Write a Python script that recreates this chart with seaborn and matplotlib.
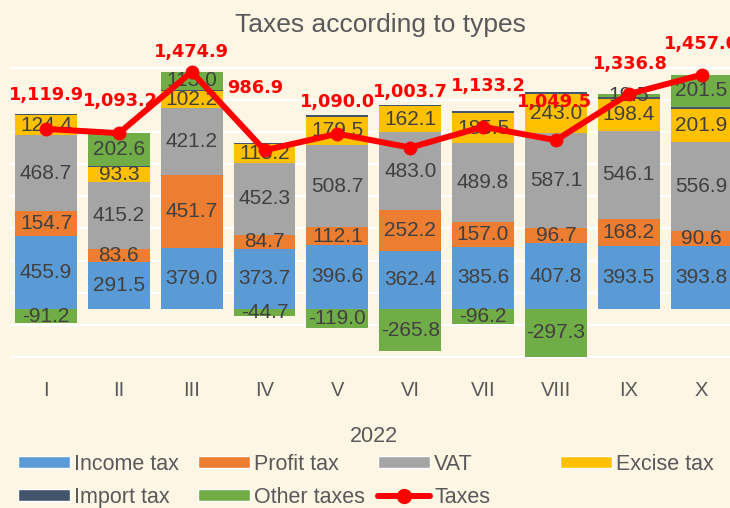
import numpy as np
import matplotlib
matplotlib.use("Agg")
import matplotlib.pyplot as plt
import seaborn as sns
from matplotlib.patches import Patch
from matplotlib.lines import Line2D

# values (2022, by month)
months = ["I", "II", "III", "IV", "V", "VI", "VII", "VIII", "IX", "X"]
income_tax = [455.9, 291.5, 379.0, 373.7, 396.6, 362.4, 385.6, 407.8, 393.5, 393.8]
profit_tax = [154.7, 83.6, 451.7, 84.7, 112.1, 252.2, 157.0, 96.7, 168.2, 90.6]
vat = [468.7, 415.2, 421.2, 452.3, 508.7, 483.0, 489.8, 587.1, 546.1, 556.9]
excise_tax = [124.4, 93.3, 102.2, 113.2, 179.5, 162.1, 185.5, 243.0, 198.4, 201.9]
import_tax = [7.4, 7.0, 7.8, 7.7, 12.1, 9.8, 11.5, 12.2, 11.1, 12.3]
other_taxes = [-91.2, 202.6, 113.0, -44.7, -119.0, -265.8, -96.2, -297.3, 19.5, 201.5]
taxes_total = [1119.9, 1093.2, 1474.9, 986.9, 1090.0, 1003.7, 1133.2, 1049.5, 1336.8, 1457.0]

# label placement for the totals (pixels, relative to the marker)
total_label_dx = [0, 2, 0, -9, 0, 0, 5, -1, 2, 0]
total_label_dy = [34, 32, 20, 62, 32, 56, 41, 38, 30, 31]

colors = {
    "Income tax": "#5B9BD5",
    "Profit tax": "#ED7D31",
    "VAT": "#A5A5A5",
    "Excise tax": "#FFC000",
    "Import tax": "#44546A",
    "Other taxes": "#70AD47",
}
bg = "#FEF6E5"
text_grey = "#595959"
label_grey = "#404040"

sns.set_theme(style="white")
plt.rcParams["font.family"] = ["Liberation Sans", "DejaVu Sans"]

W, H = 730, 508
fig = plt.figure(figsize=(W / 100, H / 100), dpi=100, facecolor=bg)
ax = fig.add_axes([9.6 / W, 1 - 373 / H, 728.4 / W, (373 - 51.8) / H])
ax.set_facecolor(bg)

series = [
    ("Income tax", income_tax),
    ("Profit tax", profit_tax),
    ("VAT", vat),
    ("Excise tax", excise_tax),
    ("Import tax", import_tax),
    ("Other taxes", other_taxes),
]

pos_base = np.zeros(len(months))
for name, vals in series:
    vals = np.asarray(vals, dtype=float)
    bottom = np.where(vals >= 0, pos_base, 0.0)
    sns.barplot(x=months, y=vals, bottom=bottom, order=months, color=colors[name],
                saturation=1, width=0.85, errorbar=None, linewidth=0, ax=ax, zorder=2)
    if name != "Import tax":
        ax.bar_label(ax.containers[-1], labels=[f"{v:.1f}" for v in vals],
                     label_type="center", fontsize=15, color=label_grey, zorder=4)
    pos_base = pos_base + np.where(vals >= 0, vals, 0.0)

x = np.arange(len(months))
sns.lineplot(x=x, y=taxes_total, color="#FF0000", linewidth=4.3, marker="o",
             markersize=10, markeredgewidth=0, ax=ax, zorder=5)
for i, v in enumerate(taxes_total):
    ax.annotate(f"{v:,.1f}", (i, v), xytext=(total_label_dx[i], total_label_dy[i]),
                textcoords="offset pixels", ha="center", va="center",
                fontsize=12.8, fontweight="bold", color="#FF0000",
                family="DejaVu Sans", zorder=6, annotation_clip=False)

ax.set_xlim(-0.5, len(months) - 0.5)
ax.set_ylim(-400, 1600)
ax.set_yticks(np.arange(-300, 1600, 200))
ax.yaxis.grid(True, color="white", linewidth=1.5)
ax.xaxis.grid(False)
ax.set_axisbelow(True)
ax.tick_params(axis="y", length=0, labelleft=False)
ax.tick_params(axis="x", length=0, pad=6, labelsize=14.5, labelcolor=text_grey)
for s in ax.spines.values():
    s.set_visible(False)
ax.set_ylabel("")
ax.set_xlabel("2022", fontsize=15.5, color=text_grey)
ax.xaxis.set_label_coords(0.5, (373 - 426) / (373 - 51.8))

fig.text(380 / W, 1 - 32 / H, "Taxes according to types", ha="center", va="baseline",
         fontsize=19, color=text_grey)

# legend: four columns on an even grid, like the original
taxes_handle = Line2D([0], [0], color="#FF0000", linewidth=4.3, marker="o", markersize=10)
columns = [
    (18, ["Income tax", "Import tax"]),
    (198, ["Profit tax", "Other taxes"]),
    (378, ["VAT", "Taxes"]),
    (560, ["Excise tax"]),
]
for x_px, names in columns:
    handles = [taxes_handle if n == "Taxes" else Patch(facecolor=colors[n], label=n) for n in names]
    fig.legend(handles, names, loc="upper left", bbox_to_anchor=(x_px / W, 1 - 454 / H),
               frameon=False, borderpad=0, borderaxespad=0, fontsize=15.5,
               handlelength=2.4, handleheight=0.46, handletextpad=0.22,
               labelspacing=0.55, labelcolor=text_grey)

fig.savefig("out.png", dpi=100, facecolor=bg)
